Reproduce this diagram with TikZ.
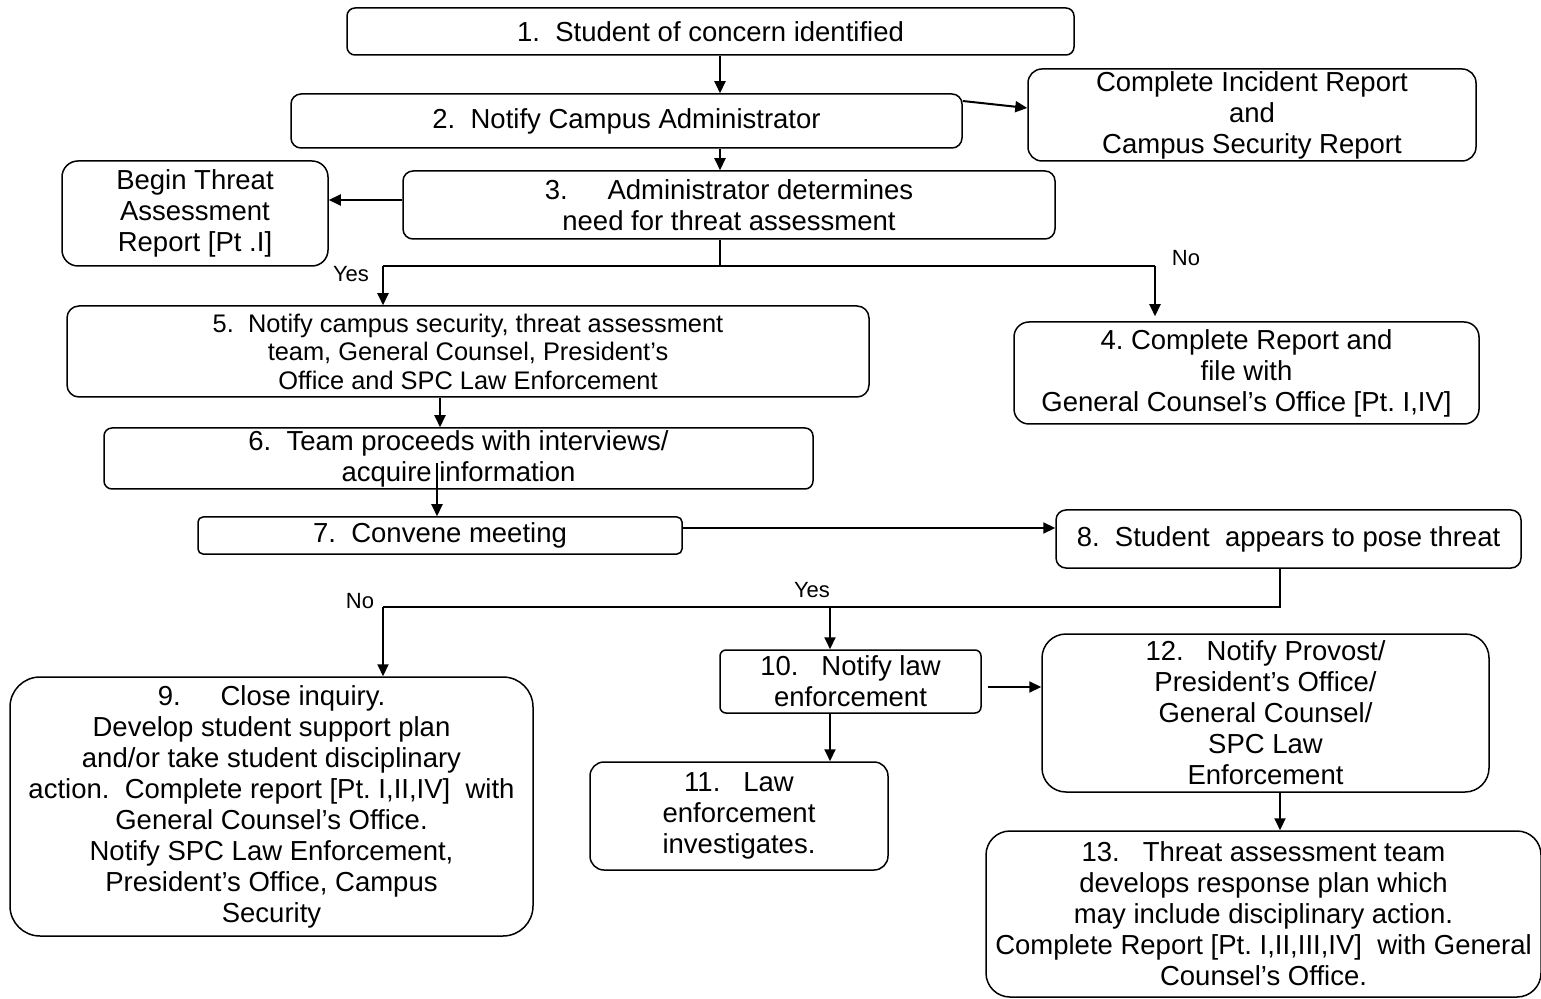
\documentclass[tikz,border=0pt]{standalone}
\usepackage{fontspec}
\setmainfont{Liberation Sans}
\usetikzlibrary{arrows.meta}
\frenchspacing
\begin{document}
\begin{tikzpicture}[x=0.5pt,y=-0.5pt,
  box/.style={draw, line width=0.75pt, align=center, inner sep=0pt,
    font=\fontsize{13.75pt}{15.5pt}\selectfont},
  conn/.style={line width=1pt},
  arr/.style={line width=1pt, -{Triangle[length=6pt,width=5.5pt]}},
  lbl/.style={font=\fontsize{11pt}{13pt}\selectfont, inner sep=0pt}]
\useasboundingbox (0,0) rectangle (1541,999);

\node[box, rounded corners=4pt, minimum width=363.5pt, minimum height=23.5pt] (n1) at (710.5,31.5) {1.\ \ Student of concern identified};
\node[box, rounded corners=5pt, minimum width=335.5pt, minimum height=27pt] (n2) at (626.5,121) {2.\ \ Notify Campus Administrator};
\node[box, rounded corners=7pt, minimum width=224pt, minimum height=46pt] (ir) at (1252,115) {Complete Incident Report\\and\\Campus Security Report};
\node[box, rounded corners=5pt, minimum width=326pt, minimum height=34pt] (n3) at (729,205) {3.\hspace{1.45em}Administrator determines\\need for threat assessment};
\node[box, rounded corners=8pt, minimum width=133pt, minimum height=52.5pt] (bt) at (195,213.5) {Begin Threat\\Assessment\\Report [Pt .I]};
\node[box, rounded corners=6pt, minimum width=401pt, minimum height=45.5pt, font=\fontsize{12.7pt}{14.25pt}\selectfont] (n5) at (468,351.5) {5.\ \ Notify campus security, threat assessment\\team, General Counsel, President’s\\Office and SPC Law Enforcement};
\node[box, rounded corners=7.5pt, minimum width=232.5pt, minimum height=51pt] (n4) at (1246.5,373) {4. Complete Report and\\file with\\General Counsel’s Office [Pt. I,IV]};
\node[box, rounded corners=4pt, minimum width=354.5pt, minimum height=30.5pt] (n6) at (458.5,458.5) {6.\ \ Team proceeds with interviews/\\acquire information};
\node[box, rounded corners=2.5pt, minimum width=242pt, minimum height=18.5pt] (n7) at (440,535.5) {7.\ \ Convene meeting};
\node[box, rounded corners=5pt, minimum width=232.5pt, minimum height=29pt] (n8) at (1288.5,539) {8.\ \ Student\ \ appears to pose threat};
\node[box, rounded corners=15pt, minimum width=261.5pt, minimum height=129.5pt] (n9) at (271.5,806.5) {9.\hspace{1.45em}Close inquiry.\hspace{0.85em}\\Develop student support plan\\and/or take student disciplinary\\action.\ \ Complete report [Pt. I,II,IV]\ \ with\\General Counsel’s Office.\\Notify SPC Law Enforcement,\\President’s Office, Campus\\Security};
\node[box, rounded corners=3pt, minimum width=130.5pt, minimum height=31.5pt] (n10) at (850.5,681.5) {10.\ \ \ Notify law\\enforcement};
\node[box, rounded corners=7pt, minimum width=149pt, minimum height=54pt] (n11) at (739,816) {11.\ \ \ Law\hspace{1.2em}\\enforcement\\investigates.};
\node[box, rounded corners=12pt, minimum width=223.5pt, minimum height=79pt] (n12) at (1265.5,713) {12.\ \ \ Notify Provost/\\President’s Office/\\General Counsel/\\SPC Law\\Enforcement};
\node[box, rounded corners=12pt, minimum width=277.5pt, minimum height=83pt] (n13) at (1263.5,914) {13.\ \ \ Threat assessment team\\develops response plan which\\may include disciplinary action.\\Complete Report [Pt. I,II,III,IV]\ \ with General\\Counsel’s Office.};

\coordinate (c720) at (720,0);
\coordinate (c440) at (440,0);
\coordinate (c437) at (437,0);
\coordinate (c830) at (830,0);
\coordinate (c1280) at (1280,0);
\coordinate (j3) at (720,266);
\coordinate (ya) at (383,266);
\coordinate (na) at (1155,266);
\coordinate (j8) at (1280,607);
\coordinate (nb) at (383,607);
\coordinate (yb) at (830,607);

\draw[arr] (n1.south -| c720) -- (n2.north -| c720);
\draw[arr] ([yshift=10pt]n2.east) -- ([yshift=3.5pt]ir.west);
\draw[arr] (n2.south -| c720) -- (n3.north -| c720);
\draw[arr] ([yshift=2.5pt]n3.west) -- ([yshift=2.5pt]n3.west -| bt.east);
\draw[conn] (n3.south -| c720) -- (j3);
\draw[conn] (ya) -- (na);
\draw[arr] (ya) -- (ya |- n5.north);
\draw[arr, shorten >=2.5pt] (na) -- (na |- n4.north);
\draw[arr] (n5.south -| c440) -- (n6.north -| c440);
\draw[arr] ([yshift=13.5pt]n6.south -| c437) -- (n7.north -| c437);
\draw[arr] ([yshift=3.75pt]n7.east) -- ([yshift=3.75pt]n7.east -| n8.west);
\draw[conn] (n8.south -| c1280) -- (j8) -- (nb);
\draw[arr] (nb) -- (nb |- n9.north);
\draw[arr] (yb) -- (yb |- n10.north);
\draw[arr] (n10.south -| c830) -- (n11.north -| c830);
\draw[arr] ([xshift=3pt,yshift=-2.75pt]n10.east) -- ([yshift=-2.75pt]n10.east -| n12.west);
\draw[arr] (n12.south -| c1280) -- (n13.north -| c1280);

\node[lbl] (ly1) at (351,274) {Yes};
\node[lbl] (ln1) at (1186,258) {No};
\node[lbl] (ln2) at (360,601) {No};
\node[lbl] (ly2) at (812,590) {Yes};
\end{tikzpicture}
\end{document}
